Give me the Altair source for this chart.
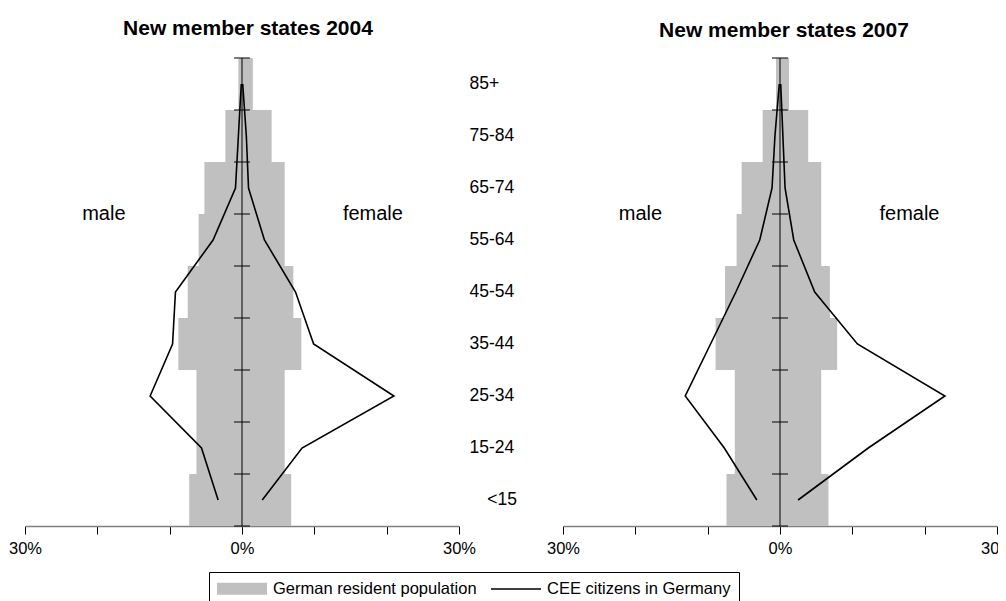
import altair as alt
import pandas as pd

ages = ["<15", "15-24", "25-34", "35-44", "45-54", "55-64", "65-74", "75-84", "85+"]

# German resident population (% of total), new member states 2004 panel
de_male_2004 = [7.3, 6.3, 6.3, 8.8, 7.5, 6.0, 5.2, 2.3, 0.5]
de_female_2004 = [6.8, 5.9, 5.9, 8.2, 7.1, 5.9, 5.9, 4.1, 1.5]
# CEE citizens in Germany, 2004
cee_male_2004 = [3.3, 5.6, 12.7, 9.6, 9.2, 4.0, 0.9, 0.5, 0.1]
cee_female_2004 = [2.8, 8.3, 21.0, 9.9, 7.4, 3.1, 0.9, 0.6, 0.1]

# 2007 panel
de_male_2007 = [7.4, 6.25, 6.25, 8.9, 7.6, 6.0, 5.3, 2.4, 0.55]
de_female_2007 = [6.7, 5.7, 5.7, 7.9, 6.9, 5.7, 5.7, 3.9, 1.25]
cee_male_2007 = [3.2, 7.7, 13.1, 9.6, 6.1, 2.8, 1.1, 0.7, 0.1]
cee_female_2007 = [2.5, 12.2, 22.8, 10.7, 4.8, 1.9, 0.7, 0.4, 0.1]

series = ["German resident population", "CEE citizens in Germany"]
sex_labels = ["male", "female"]

FONT = "Liberation Sans"
GREY = "#c0c0c0"
N = len(ages)

RECT_PATH = "M-1.375,-1H6.958V1H-1.375Z"
LINE_PATH = "M-1.375,0H6.958"


def panel(title, t_offset, t_dx, dm, dfe, cm, cf, sex_x, with_ages, with_legend):
    xs = alt.Scale(domain=[-30, 30], nice=False, zero=False)
    ys = alt.Scale(domain=[0, N], nice=False, zero=False)
    xaxis = alt.Axis(
        values=list(range(-30, 31, 10)),
        labelExpr="abs(datum.value) % 30 == 0 ? abs(datum.value) + '%' : ''",
        title=None, grid=False, tickSize=8, tickColor="black", tickWidth=1,
        domainColor="#808080", domainWidth=1.5, labelFont=FONT, labelFontSize=16.5,
        labelColor="black", labelPadding=6, labelFlush=False, labelOverlap=False,
    )

    bars = pd.DataFrame({
        "x": [-v for v in dm] + [0] * N,
        "x2": [0] * N + list(dfe),
        "y": list(range(N)) * 2,
        "y2": [i + 1 for i in range(N)] * 2,
    })
    bar = alt.Chart(bars).mark_rect(color=GREY).encode(
        x=alt.X("x:Q", scale=xs, axis=xaxis),
        x2="x2:Q",
        y=alt.Y("y:Q", scale=ys, axis=None),
        y2="y2:Q",
    )

    center = alt.Chart(pd.DataFrame({"x": [0]})).mark_rule(color="black", strokeWidth=1).encode(
        x=alt.X("x:Q", scale=xs, axis=xaxis),
        y=alt.YDatum(0, scale=ys, axis=None),
        y2=alt.datum(N),
    )

    ticks = alt.Chart(pd.DataFrame({"b": list(range(N + 1))})).mark_rule(color="black", strokeWidth=1).encode(
        y=alt.Y("b:Q", scale=ys, axis=None),
        x=alt.XDatum(-1.1, scale=xs, axis=xaxis),
        x2=alt.datum(1.1),
    )

    lines = pd.DataFrame({
        "x": [-v for v in cm] + list(cf),
        "y": [i + 0.5 for i in range(N)] * 2,
        "sex": ["male"] * N + ["female"] * N,
        "i": list(range(N)) * 2,
    })
    line = alt.Chart(lines).mark_line(color="black", strokeWidth=1.6).encode(
        x=alt.X("x:Q", scale=xs, axis=xaxis),
        y=alt.Y("y:Q", scale=ys, axis=None),
        detail="sex:N",
        order="i:Q",
    )

    sl = alt.Chart(pd.DataFrame({"t": sex_labels, "x": sex_x, "y": [6, 6]})).mark_text(
        font=FONT, fontSize=20, color="black"
    ).encode(
        x=alt.X("x:Q", scale=xs, axis=xaxis),
        y=alt.Y("y:Q", scale=ys, axis=None),
        text="t:N",
    )

    layers = [bar, center, ticks, line, sl]

    if with_ages:
        al = alt.Chart(pd.DataFrame({
            "t": ages,
            "y": [i + 0.5 for i in range(N)],
            "x": [33.9] + [31.45] * (N - 1),
        })).mark_text(font=FONT, fontSize=17.5, color="black", align="left").encode(
            x=alt.X("x:Q", scale=xs, axis=xaxis),
            y=alt.Y("y:Q", scale=ys, axis=None),
            text="t:N",
        )
        layers.append(al)

    if with_legend:
        leg = pd.DataFrame({"series": series, "x": [100, 100], "y": [4.5, 4.5]})
        lg = alt.Legend(
            orient="none", legendX=184, legendY=514, direction="horizontal", title=None,
            strokeColor="black", fillColor="white", padding=8, cornerRadius=0,
            labelFont=FONT, labelFontSize=16.5, labelColor="black", labelLimit=400,
            symbolSize=144, symbolOffset=0, labelOffset=39.5, columnPadding=11,
            symbolStrokeWidth=1.5,
        )
        dummy = alt.Chart(leg).mark_point(clip=True, opacity=1, strokeWidth=1.5).encode(
            x=alt.X("x:Q", scale=xs, axis=xaxis),
            y=alt.Y("y:Q", scale=ys, axis=None),
            shape=alt.Shape("series:N", scale=alt.Scale(domain=series, range=[RECT_PATH, LINE_PATH]), legend=lg),
            fill=alt.Fill("series:N", scale=alt.Scale(domain=series, range=[GREY, "transparent"]), legend=lg),
            stroke=alt.Stroke("series:N", scale=alt.Scale(domain=series, range=["transparent", "black"]), legend=lg),
        )
        layers.append(dummy)

    return alt.layer(*layers).properties(
        width=434, height=468,
        title=alt.TitleParams(
            title, font=FONT, fontSize=21, fontWeight="bold", color="black",
            offset=t_offset, dx=t_dx, frame="group", anchor="middle", baseline="alphabetic",
        ),
    )


left = panel("New member states 2004", 2, 6, de_male_2004, de_female_2004,
             cee_male_2004, cee_female_2004, [-19.1, 18.1], True, True)
right = panel("New member states 2007", 0, 4, de_male_2007, de_female_2007,
              cee_male_2007, cee_female_2007, [-19.3, 17.9], False, False)

chart = alt.hconcat(left, right, spacing=104, bounds="flush").properties(
    autosize=alt.AutoSizeParams(type="none"),
    padding={"left": 17, "top": 50, "right": 973, "bottom": 550},
).configure(font=FONT, view=alt.ViewConfig(stroke=None))

chart.save("out.html", embed_options={"renderer": "svg", "actions": False})
